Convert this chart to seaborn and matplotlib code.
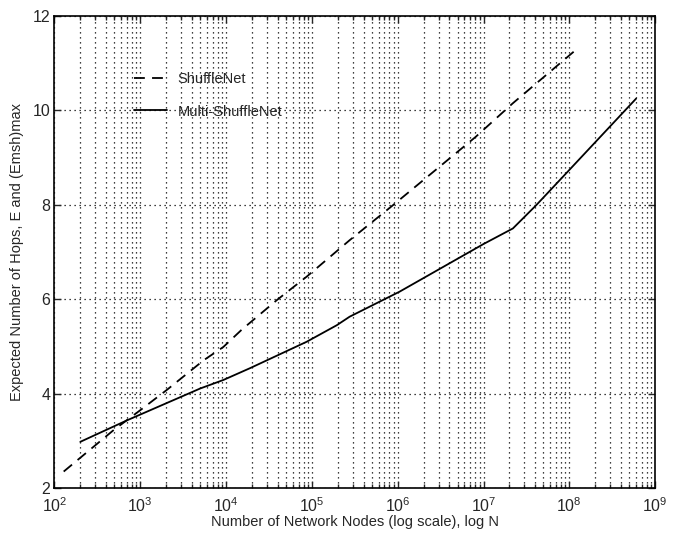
# Expected hops: ShuffleNet vs Multi-ShuffleNet (log-scale node count)
import pandas as pd
import matplotlib
matplotlib.use('Agg')
import matplotlib.pyplot as plt
import matplotlib.ticker as mticker
import seaborn as sns

# values
shuffle_n = [128, 490, 1000, 2040, 5500, 9300, 15100, 38900, 87100,
             2.75e5, 8.91e5, 8.1e6, 2.19e7, 1.26e8]
shuffle_e = [2.35, 3.23, 3.65, 4.08, 4.71, 4.99, 5.35, 5.98, 6.48,
             7.25, 8.00, 9.44, 10.15, 11.32]

multi_n = [200, 710, 5000, 9300, 19000, 87000, 1.95e5, 2.75e5, 1.05e6,
           1e7, 2.2e7, 4.1e7, 9.1e7, 6.0e8]
multi_e = [2.98, 3.44, 4.11, 4.29, 4.54, 5.10, 5.45, 5.63, 6.16,
           7.17, 7.50, 7.99, 8.66, 10.25]

series_names = ['ShuffleNet', 'Multi-ShuffleNet']
decades = [2, 3, 4, 5, 6, 7, 8, 9]

df = pd.concat([
    pd.DataFrame({'N': shuffle_n, 'E': shuffle_e, 'net': series_names[0]}),
    pd.DataFrame({'N': multi_n, 'E': multi_e, 'net': series_names[1]}),
])

sns.set_style('ticks')
plt.rcParams['font.family'] = ['Liberation Sans', 'DejaVu Sans']
plt.rcParams['mathtext.default'] = 'regular'
plt.rcParams['xtick.direction'] = 'in'
plt.rcParams['ytick.direction'] = 'in'

fig = plt.figure(figsize=(6.81, 5.34), dpi=100)
ax = fig.add_axes([0.080, 0.086, 0.882, 0.884])

sns.lineplot(data=df, x='N', y='E', style='net', style_order=series_names,
             dashes={'ShuffleNet': (6, 4), 'Multi-ShuffleNet': ''},
             color='black', linewidth=1.3, sort=False, ax=ax)

ax.set_xscale('log')
ax.set_xlim(1e2, 1e9)
ax.set_ylim(2, 12)
ax.set_yticks([2, 4, 6, 8, 10, 12])
ax.set_xticks([10.0 ** d for d in decades])
ax.set_xticklabels([r'$10^{%d}$' % d for d in decades])
ax.set_xticks([m * 10.0 ** d for d in decades[:-1] for m in range(2, 10)], minor=True)
ax.xaxis.set_minor_formatter(mticker.NullFormatter())

grid_ls = (0, (1, 3))
ax.grid(True, which='major', axis='both', linestyle=grid_ls, color='black', linewidth=0.9)
ax.grid(True, which='minor', axis='x', linestyle=grid_ls, color='black', linewidth=0.9)

ax.tick_params(which='both', top=True, right=True, labelsize=11.5, length=5, width=1)
ax.tick_params(axis='x', pad=6)
ax.tick_params(axis='y', pad=3)
ax.tick_params(which='minor', length=3)
for s in ax.spines.values():
    s.set_linewidth(1.2)
    s.set_color('black')

ax.set_xlabel('Number of Network Nodes (log scale), log N', fontsize=10.5, labelpad=0)
ax.set_ylabel('Expected Number of Hops, E and (Emsh)max', fontsize=10.5, labelpad=6)

ax.legend(title=None, frameon=False, loc='upper left', bbox_to_anchor=(0.11, 0.91),
          fontsize=10.5, handlelength=2.3, handletextpad=0.7, labelspacing=1.3)

fig.savefig('out.png', dpi=100)
